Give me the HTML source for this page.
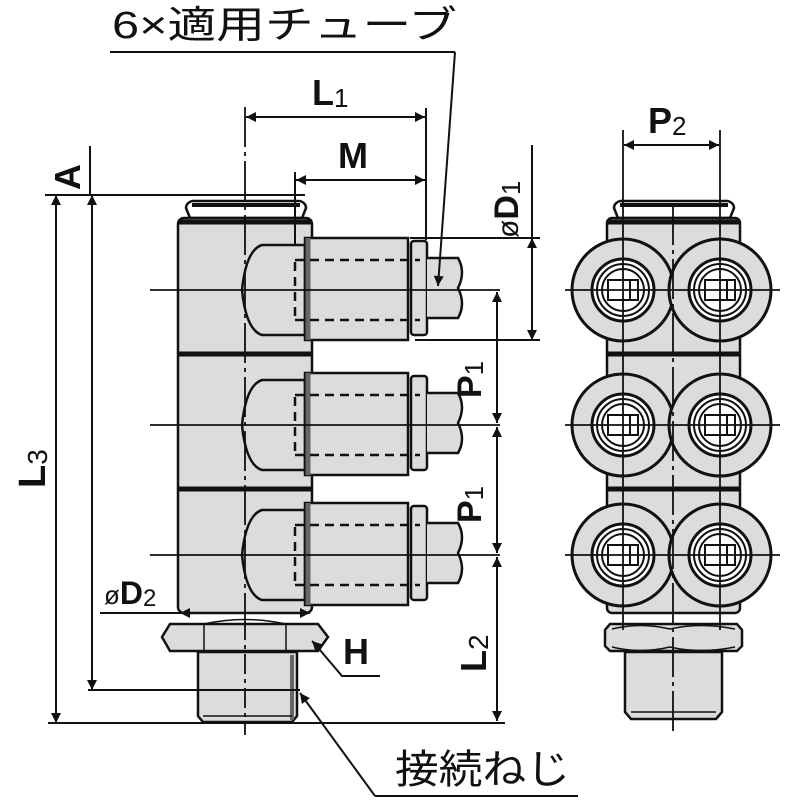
<!DOCTYPE html>
<html><head><meta charset="utf-8"><style>
html,body{margin:0;padding:0;background:#fff;}
svg{display:block;}
text{font-family:"Liberation Sans","Noto Sans CJK JP",sans-serif;fill:#111;}
</style></head><body>
<svg width="800" height="800" viewBox="0 0 800 800" xmlns="http://www.w3.org/2000/svg">
<defs>
<marker id="ar" viewBox="0 0 10 10" refX="10" refY="5" markerWidth="14" markerHeight="10" markerUnits="userSpaceOnUse" orient="auto-start-reverse"><path d="M0,0 L10,5 L0,10 z" fill="#111"/></marker>
</defs>
<g stroke="#111" stroke-width="2.5" fill="#dcdcdc">
<!-- LEFT VIEW -->
<path d="M190,218 L186,208 Q186,203 192,201 L300,201 Q306,203 306,208 L302,218 Z" fill="#fff"/>
<line x1="192" y1="205" x2="300" y2="205" stroke-width="4"/>
<rect x="178" y="218" width="134" height="395" rx="6"/>
<line x1="178" y1="222" x2="312" y2="222" stroke-width="5"/>
<line x1="178" y1="354" x2="312" y2="354" stroke-width="5"/>
<line x1="178" y1="489" x2="312" y2="489" stroke-width="5"/>
<g id="fit">
<path d="M305,245 L262,245 Q246,250 242,290 Q246,330 262,335 L305,335 Z"/>
<rect x="305" y="238" width="103" height="102"/>
<line x1="308" y1="238" x2="308" y2="340" stroke="#666" stroke-width="5"/>
<rect x="411" y="241" width="16" height="94" rx="3"/>
<path d="M427,258 L458,258 Q466,272 458,288 Q466,304 458,318 L427,318" />
<g stroke-dasharray="9,6" stroke-width="2.5" fill="none">
<line x1="295" y1="260" x2="420" y2="260"/><line x1="295" y1="320" x2="420" y2="320"/><line x1="295" y1="262" x2="295" y2="318"/>
</g>
</g>
<use href="#fit" transform="translate(0,135)"/>
<use href="#fit" transform="translate(0,265)"/>
<path d="M170,624 L318,624 L328,637 L318,651 L170,651 L162,637 Z"/>
<path d="M204,624 Q245,615 286,624 M204,651 Q245,660 286,651" fill="none" stroke-width="1.5"/>
<line x1="204" y1="624" x2="204" y2="651" stroke-width="1.5"/><line x1="286" y1="624" x2="286" y2="651" stroke-width="1.5"/>
<path d="M198,652 L297,652 L297,716 L292,722 L203,722 L198,716 Z"/>
<line x1="292" y1="655" x2="292" y2="720" stroke="#666" stroke-width="4"/>
<line x1="203" y1="716" x2="292" y2="716" stroke-width="1.5"/>
</g>
<!-- RIGHT VIEW -->
<g stroke="#111" stroke-width="2.5" fill="#dcdcdc">
<path d="M618,218 L614,208 Q614,203 620,201 L728,201 Q734,203 734,208 L730,218 Z" fill="#fff"/>
<line x1="620" y1="205" x2="728" y2="205" stroke-width="4"/>
<rect x="607" y="218" width="133" height="395" rx="5"/>
<line x1="607" y1="222" x2="740" y2="222" stroke-width="5"/>
<line x1="607" y1="354" x2="740" y2="354" stroke-width="5"/>
<line x1="607" y1="489" x2="740" y2="489" stroke-width="5"/>
<g id="ring">
<circle cx="623" cy="290" r="51" stroke-width="3"/>
<circle cx="623" cy="290" r="31" fill="#fff" stroke-width="3"/>
<circle cx="623" cy="290" r="26" fill="none" stroke-width="2"/>
<circle cx="623" cy="290" r="21" fill="none" stroke-width="2"/>
<rect x="608" y="280" width="30" height="20" fill="#fff" stroke-width="2"/>
<line x1="630" y1="280" x2="630" y2="300" stroke-width="2"/>
</g>
<use href="#ring" transform="translate(97,0)"/>
<use href="#ring" transform="translate(0,135)"/>
<use href="#ring" transform="translate(97,135)"/>
<use href="#ring" transform="translate(0,265)"/>
<use href="#ring" transform="translate(97,265)"/>
<path d="M610,624 L737,624 L742,630 L742,646 L737,651 L610,651 L605,646 L605,630 Z"/>
<path d="M612,629 Q640,622 670,629 Q700,622 735,629 M612,647 Q640,654 670,647 Q700,654 735,647" fill="none" stroke-width="1.5"/>
<path d="M625,652 L722,652 L722,712 L716,719 L631,719 L625,712 Z"/>
<line x1="631" y1="712" x2="716" y2="712" stroke-width="1.5"/>
</g>
<g stroke="#111" stroke-width="1.8" fill="none">
<line x1="150" y1="290" x2="500" y2="290"/>
<line x1="150" y1="425" x2="500" y2="425"/>
<line x1="150" y1="555" x2="500" y2="555"/>
<line x1="245" y1="107" x2="245" y2="620" stroke-dasharray="40,5,4,5"/>
<line x1="245" y1="620" x2="245" y2="735" stroke-dasharray="20,5,4,5"/>
<line x1="565" y1="290" x2="780" y2="290"/>
<line x1="565" y1="425" x2="780" y2="425"/>
<line x1="565" y1="555" x2="780" y2="555"/>
<line x1="673" y1="205" x2="673" y2="735" stroke-dasharray="40,5,4,5"/>
<line x1="623" y1="130" x2="623" y2="630"/>
<line x1="720" y1="130" x2="720" y2="630"/>
</g>
<g stroke="#111" stroke-width="2" fill="none">
<line x1="45" y1="195" x2="305" y2="195"/>
<line x1="90" y1="146" x2="90" y2="195"/>
<line x1="56" y1="195" x2="56" y2="723" marker-start="url(#ar)" marker-end="url(#ar)"/>
<line x1="92" y1="195" x2="92" y2="690" marker-start="url(#ar)" marker-end="url(#ar)"/>
<line x1="88" y1="690" x2="300" y2="690"/>
<line x1="48" y1="723" x2="505" y2="723"/>
<line x1="426" y1="108" x2="426" y2="240"/>
<line x1="246" y1="117" x2="425" y2="117" marker-start="url(#ar)" marker-end="url(#ar)"/>
<line x1="295" y1="172" x2="295" y2="245"/>
<line x1="296" y1="180" x2="425" y2="180" marker-start="url(#ar)" marker-end="url(#ar)"/>
<line x1="110" y1="52" x2="455" y2="52"/>
<line x1="455" y1="52" x2="438" y2="286" marker-end="url(#ar)"/>
<line x1="410" y1="238" x2="540" y2="238"/>
<line x1="415" y1="340" x2="540" y2="340"/>
<line x1="532" y1="145" x2="532" y2="238"/>
<line x1="532" y1="238" x2="532" y2="340" marker-start="url(#ar)" marker-end="url(#ar)"/>
<line x1="497" y1="292" x2="497" y2="423" marker-start="url(#ar)" marker-end="url(#ar)"/>
<line x1="497" y1="427" x2="497" y2="553" marker-start="url(#ar)" marker-end="url(#ar)"/>
<line x1="497" y1="557" x2="497" y2="721" marker-start="url(#ar)" marker-end="url(#ar)"/>
<line x1="100" y1="613" x2="180" y2="613"/>
<line x1="180" y1="613" x2="310" y2="613" marker-start="url(#ar)" marker-end="url(#ar)"/>
<polyline points="380,676 342,676 314,643"/>
<line x1="314" y1="643" x2="312" y2="641" marker-end="url(#ar)"/>
<line x1="375" y1="796" x2="578" y2="796"/>
<line x1="375" y1="796" x2="300" y2="693" marker-end="url(#ar)"/>
<line x1="624" y1="145" x2="719" y2="145" marker-start="url(#ar)" marker-end="url(#ar)"/>
</g>
<text x="112" y="38" font-size="38" textLength="345" lengthAdjust="spacingAndGlyphs">6×適用チューブ</text>
<text x="312" y="105" font-size="36" font-weight="bold">L<tspan font-size="26" font-weight="normal" dy="2">1</tspan></text>
<text x="338" y="168" font-size="36" font-weight="bold">M</text>
<text x="648" y="133" font-size="36" font-weight="bold">P<tspan font-size="26" font-weight="normal" dy="2">2</tspan></text>
<text transform="translate(80,190) rotate(-90)" font-size="36" font-weight="bold">A</text>
<text transform="translate(45,488) rotate(-90)" font-size="38" font-weight="bold">L<tspan font-size="28" font-weight="normal" dy="2">3</tspan></text>
<text transform="translate(518,238) rotate(-90)" font-size="34" font-weight="bold"><tspan font-weight="normal" font-size="30">ø</tspan>D<tspan font-size="26" font-weight="normal" dy="2">1</tspan></text>
<text transform="translate(481,398) rotate(-90)" font-size="34" font-weight="bold">P<tspan font-size="26" font-weight="normal" dy="2">1</tspan></text>
<text transform="translate(481,523) rotate(-90)" font-size="34" font-weight="bold">P<tspan font-size="26" font-weight="normal" dy="2">1</tspan></text>
<text transform="translate(486,672) rotate(-90)" font-size="36" font-weight="bold">L<tspan font-size="28" font-weight="normal" dy="2">2</tspan></text>
<text x="104" y="604" font-size="32" font-weight="bold"><tspan font-weight="normal" font-size="26">ø</tspan>D<tspan font-size="24" font-weight="normal" dy="2">2</tspan></text>
<text x="343" y="664" font-size="36" font-weight="bold">H</text>
<text x="395" y="783" font-size="40" textLength="175" lengthAdjust="spacingAndGlyphs">接続ねじ</text>
</svg>
</body></html>
